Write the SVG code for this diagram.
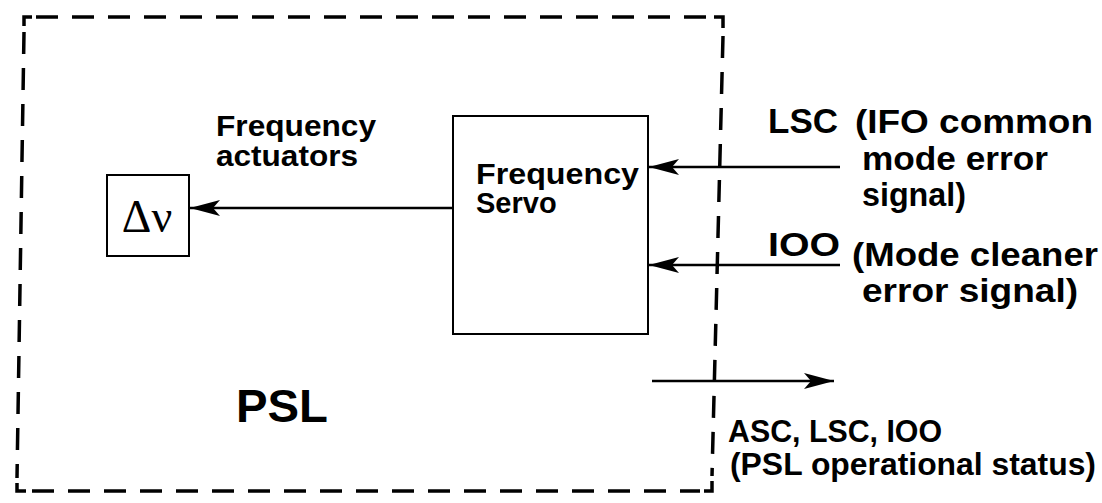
<svg xmlns="http://www.w3.org/2000/svg" width="1102" height="503" viewBox="0 0 1102 503">
<defs>
<style>
.b{fill:none;stroke:#000;stroke-width:3.5;stroke-dasharray:22 14}
.c{fill:none;stroke:#000;stroke-width:3.5}
.box{fill:none;stroke:#000;stroke-width:2}
.ln{stroke:#000;stroke-width:2.5;fill:none}
.t{font-family:"Liberation Sans",Arial,sans-serif;font-weight:bold;fill:#000}
</style>
<marker id="ah" viewBox="0 0 30 16" refX="30" refY="8" markerWidth="30" markerHeight="16" markerUnits="userSpaceOnUse" orient="auto">
<path d="M0,0 L30,8 L0,16 L7,8 Z" fill="#000"/>
</marker>
</defs>
<rect width="1102" height="503" fill="#fff"/>
<g id="border">
<path class="b" d="M36,17 L712,17"/>
<path class="b" d="M24,32 L17,478"/>
<path class="b" d="M32,491 L700,491"/>
<path class="b" d="M723,36 L712,476"/>
<path class="c" d="M32,17 L24,17 L24,26"/>
<path class="c" d="M17,483 L17,491 L26,491"/>
<path class="c" d="M714,17 L723,17 L723,28"/>
<path class="c" d="M712,481 L712,491 L704,491"/>
</g>
<g id="connectors">
<line class="ln" x1="453" y1="208" x2="190" y2="208" marker-end="url(#ah)"/>
<line class="ln" x1="840" y1="167" x2="649" y2="167" marker-end="url(#ah)"/>
<line class="ln" x1="840" y1="265" x2="649" y2="265" marker-end="url(#ah)"/>
<line class="ln" x1="652" y1="381" x2="834" y2="381" marker-end="url(#ah)"/>
</g>
<g id="delta-nu">
<rect class="box" x="107" y="175" width="82" height="81"/>
<text x="147" y="232" text-anchor="middle" font-family="Liberation Serif,serif" font-size="46">Δν</text>
</g>
<g id="servo">
<rect class="box" x="453" y="116" width="195" height="218"/>
<text class="t" x="476" y="184" font-size="29" textLength="163" lengthAdjust="spacingAndGlyphs">Frequency</text>
<text class="t" x="476" y="213" font-size="29">Servo</text>
</g>
<g id="labels">
<text class="t" x="216" y="136" font-size="30" textLength="160" lengthAdjust="spacingAndGlyphs">Frequency</text>
<text class="t" x="216" y="166" font-size="30" textLength="142" lengthAdjust="spacingAndGlyphs">actuators</text>
<text class="t" x="768" y="133" font-size="35" textLength="70" lengthAdjust="spacingAndGlyphs">LSC</text>
<text class="t" x="855" y="133" font-size="33" textLength="238" lengthAdjust="spacingAndGlyphs">(IFO common</text>
<text class="t" x="862" y="170" font-size="33" textLength="186" lengthAdjust="spacingAndGlyphs">mode error</text>
<text class="t" x="862" y="206" font-size="33" textLength="104" lengthAdjust="spacingAndGlyphs">signal)</text>
<text class="t" x="768" y="256" font-size="33" textLength="72" lengthAdjust="spacingAndGlyphs">IOO</text>
<text class="t" x="852" y="266" font-size="33" textLength="246" lengthAdjust="spacingAndGlyphs">(Mode cleaner</text>
<text class="t" x="862" y="302" font-size="33" textLength="216" lengthAdjust="spacingAndGlyphs">error signal)</text>
<text class="t" x="728" y="442" font-size="31" textLength="214" lengthAdjust="spacingAndGlyphs">ASC, LSC, IOO</text>
<text class="t" x="730" y="475" font-size="31" textLength="366" lengthAdjust="spacingAndGlyphs">(PSL operational status)</text>
<text class="t" x="236" y="422" font-size="46" textLength="92" lengthAdjust="spacingAndGlyphs">PSL</text>
</g>
</svg>
